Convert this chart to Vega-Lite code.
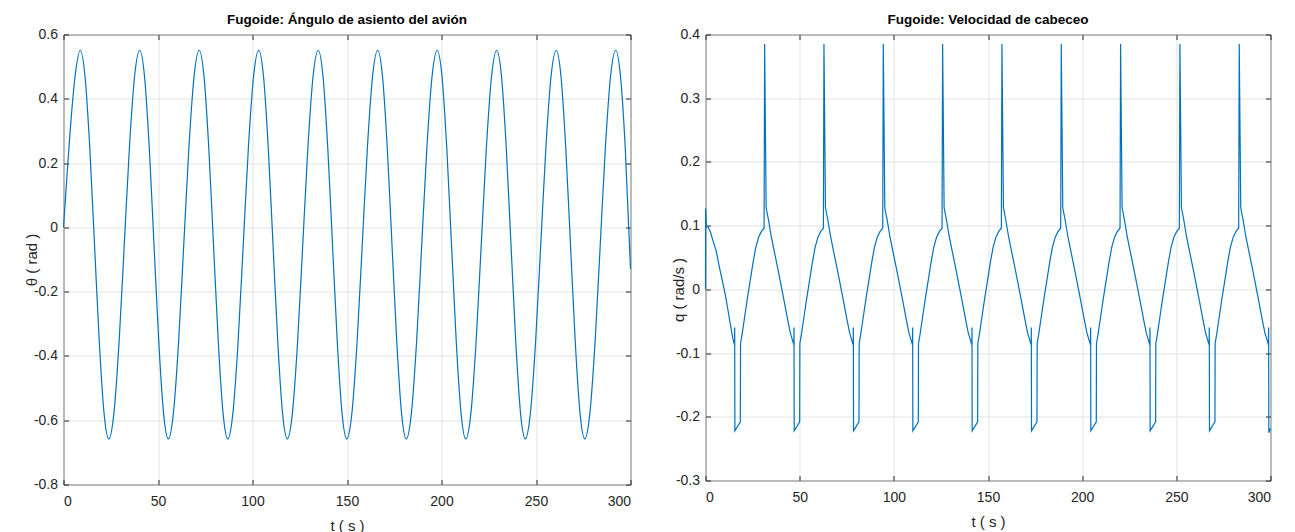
{
  "$schema": "https://vega.github.io/schema/vega-lite/v6.json",
  "background": "white",
  "padding": {"left": 23.5, "top": 12.5, "right": 0, "bottom": 0},
  "spacing": 37,
  "config": {
    "font": "Liberation Sans",
    "view": {"stroke": "#262626", "strokeWidth": 1},
    "title": {"fontSize": 13.5, "fontWeight": "bold", "color": "#000000", "offset": 1, "font": "Liberation Sans"},
    "axis": {
      "domain": false,
      "grid": true,
      "gridColor": "#e2e2e2",
      "gridWidth": 1,
      "tickColor": "#262626",
      "tickSize": -5,
      "tickWidth": 1,
      "labelFont": "Liberation Sans",
      "labelFontSize": 14,
      "labelColor": "#262626",
      "titleFont": "Liberation Sans",
      "titleFontSize": 15,
      "titleFontWeight": "normal",
      "titleColor": "#262626"
    },
    "axisX": {"labelPadding": 15, "titlePadding": 10},
    "axisY": {"labelPadding": 11}
  },
  "datasets": {
    "theta": [
      {"t": 0, "theta": 0.0}, {"t": 1.5, "theta": 0.13}, {"t": 3.4, "theta": 0.29}, {"t": 6.13, "theta": 0.47},
      {"t": 8.86, "theta": 0.551}, {"t": 11.38, "theta": 0.47}, {"t": 13.89, "theta": 0.249}, {"t": 16.41, "theta": -0.054}, {"t": 18.93, "theta": -0.356}, {"t": 21.44, "theta": -0.577}, {"t": 23.96, "theta": -0.658}, {"t": 26.69, "theta": -0.577}, {"t": 29.42, "theta": -0.356}, {"t": 32.15, "theta": -0.054}, {"t": 34.88, "theta": 0.249}, {"t": 37.61, "theta": 0.47},
      {"t": 40.34, "theta": 0.551}, {"t": 42.86, "theta": 0.47}, {"t": 45.37, "theta": 0.249}, {"t": 47.89, "theta": -0.054}, {"t": 50.41, "theta": -0.356}, {"t": 52.92, "theta": -0.577}, {"t": 55.44, "theta": -0.658}, {"t": 58.17, "theta": -0.577}, {"t": 60.9, "theta": -0.356}, {"t": 63.63, "theta": -0.054}, {"t": 66.36, "theta": 0.249}, {"t": 69.09, "theta": 0.47},
      {"t": 71.82, "theta": 0.551}, {"t": 74.34, "theta": 0.47}, {"t": 76.85, "theta": 0.249}, {"t": 79.37, "theta": -0.054}, {"t": 81.89, "theta": -0.356}, {"t": 84.4, "theta": -0.577}, {"t": 86.92, "theta": -0.658}, {"t": 89.65, "theta": -0.577}, {"t": 92.38, "theta": -0.356}, {"t": 95.11, "theta": -0.054}, {"t": 97.84, "theta": 0.249}, {"t": 100.57, "theta": 0.47},
      {"t": 103.3, "theta": 0.551}, {"t": 105.82, "theta": 0.47}, {"t": 108.33, "theta": 0.249}, {"t": 110.85, "theta": -0.054}, {"t": 113.37, "theta": -0.356}, {"t": 115.88, "theta": -0.577}, {"t": 118.4, "theta": -0.658}, {"t": 121.13, "theta": -0.577}, {"t": 123.86, "theta": -0.356}, {"t": 126.59, "theta": -0.054}, {"t": 129.32, "theta": 0.249}, {"t": 132.05, "theta": 0.47},
      {"t": 134.78, "theta": 0.551}, {"t": 137.3, "theta": 0.47}, {"t": 139.81, "theta": 0.249}, {"t": 142.33, "theta": -0.054}, {"t": 144.85, "theta": -0.356}, {"t": 147.36, "theta": -0.577}, {"t": 149.88, "theta": -0.658}, {"t": 152.61, "theta": -0.577}, {"t": 155.34, "theta": -0.356}, {"t": 158.07, "theta": -0.054}, {"t": 160.8, "theta": 0.249}, {"t": 163.53, "theta": 0.47},
      {"t": 166.26, "theta": 0.551}, {"t": 168.78, "theta": 0.47}, {"t": 171.29, "theta": 0.249}, {"t": 173.81, "theta": -0.054}, {"t": 176.33, "theta": -0.356}, {"t": 178.84, "theta": -0.577}, {"t": 181.36, "theta": -0.658}, {"t": 184.09, "theta": -0.577}, {"t": 186.82, "theta": -0.356}, {"t": 189.55, "theta": -0.054}, {"t": 192.28, "theta": 0.249}, {"t": 195.01, "theta": 0.47},
      {"t": 197.74, "theta": 0.551}, {"t": 200.26, "theta": 0.47}, {"t": 202.77, "theta": 0.249}, {"t": 205.29, "theta": -0.054}, {"t": 207.81, "theta": -0.356}, {"t": 210.32, "theta": -0.577}, {"t": 212.84, "theta": -0.658}, {"t": 215.57, "theta": -0.577}, {"t": 218.3, "theta": -0.356}, {"t": 221.03, "theta": -0.054}, {"t": 223.76, "theta": 0.249}, {"t": 226.49, "theta": 0.47},
      {"t": 229.22, "theta": 0.551}, {"t": 231.74, "theta": 0.47}, {"t": 234.25, "theta": 0.249}, {"t": 236.77, "theta": -0.054}, {"t": 239.29, "theta": -0.356}, {"t": 241.8, "theta": -0.577}, {"t": 244.32, "theta": -0.658}, {"t": 247.05, "theta": -0.577}, {"t": 249.78, "theta": -0.356}, {"t": 252.51, "theta": -0.054}, {"t": 255.24, "theta": 0.249}, {"t": 257.97, "theta": 0.47},
      {"t": 260.7, "theta": 0.551}, {"t": 263.22, "theta": 0.47}, {"t": 265.73, "theta": 0.249}, {"t": 268.25, "theta": -0.054}, {"t": 270.77, "theta": -0.356}, {"t": 273.28, "theta": -0.577}, {"t": 275.8, "theta": -0.658}, {"t": 278.53, "theta": -0.577}, {"t": 281.26, "theta": -0.356}, {"t": 283.99, "theta": -0.054}, {"t": 286.72, "theta": 0.249}, {"t": 289.45, "theta": 0.47},
      {"t": 292.18, "theta": 0.551}, {"t": 294.7, "theta": 0.47}, {"t": 297.21, "theta": 0.249}, {"t": 300, "theta": -0.13}
    ],
    "q": [
      {"t": 0, "q": 0.0}, {"t": 0.05, "q": 0.127}, {"t": 0.5, "q": 0.098}, {"t": 1.5, "q": 0.097}, {"t": 2.6, "q": 0.09}, {"t": 3.8, "q": 0.078}, {"t": 5.7, "q": 0.06}, {"t": 7.5, "q": 0.033}, {"t": 9.2, "q": 0.01}, {"t": 10.6, "q": -0.01}, {"t": 11.9, "q": -0.032}, {"t": 13.2, "q": -0.055}, {"t": 14.5, "q": -0.077},
      {"t": 15.4, "q": -0.087}, {"t": 15.5, "q": -0.06}, {"t": 15.6, "q": -0.222}, {"t": 18.5, "q": -0.208}, {"t": 18.6, "q": -0.085}, {"t": 19.4, "q": -0.071}, {"t": 20.7, "q": -0.045}, {"t": 22.2, "q": -0.015}, {"t": 23.8, "q": 0.015}, {"t": 25.3, "q": 0.043}, {"t": 26.7, "q": 0.066}, {"t": 28.2, "q": 0.082}, {"t": 29.7, "q": 0.091}, {"t": 31.1, "q": 0.096},

      {"t": 31.4, "q": 0.385}, {"t": 32.2, "q": 0.128}, {"t": 33.4, "q": 0.11}, {"t": 34.9, "q": 0.083}, {"t": 36.7, "q": 0.057}, {"t": 38.5, "q": 0.031}, {"t": 40.3, "q": 0.004}, {"t": 42.0, "q": -0.022}, {"t": 43.6, "q": -0.047}, {"t": 45.0, "q": -0.068}, {"t": 46.2, "q": -0.08}, {"t": 46.9, "q": -0.087}, {"t": 47.0, "q": -0.06}, {"t": 47.1, "q": -0.222}, {"t": 50.0, "q": -0.208}, {"t": 50.1, "q": -0.085}, {"t": 50.9, "q": -0.071}, {"t": 52.2, "q": -0.045}, {"t": 53.7, "q": -0.015}, {"t": 55.3, "q": 0.015}, {"t": 56.8, "q": 0.043}, {"t": 58.2, "q": 0.066}, {"t": 59.7, "q": 0.082}, {"t": 61.2, "q": 0.091}, {"t": 62.6, "q": 0.096},

      {"t": 62.9, "q": 0.385}, {"t": 63.7, "q": 0.128}, {"t": 64.9, "q": 0.11}, {"t": 66.4, "q": 0.083}, {"t": 68.2, "q": 0.057}, {"t": 70.0, "q": 0.031}, {"t": 71.8, "q": 0.004}, {"t": 73.5, "q": -0.022}, {"t": 75.1, "q": -0.047}, {"t": 76.5, "q": -0.068}, {"t": 77.7, "q": -0.08}, {"t": 78.4, "q": -0.087}, {"t": 78.5, "q": -0.06}, {"t": 78.6, "q": -0.222}, {"t": 81.5, "q": -0.208}, {"t": 81.6, "q": -0.085}, {"t": 82.4, "q": -0.071}, {"t": 83.7, "q": -0.045}, {"t": 85.2, "q": -0.015}, {"t": 86.8, "q": 0.015}, {"t": 88.3, "q": 0.043}, {"t": 89.7, "q": 0.066}, {"t": 91.2, "q": 0.082}, {"t": 92.7, "q": 0.091}, {"t": 94.1, "q": 0.096},

      {"t": 94.4, "q": 0.385}, {"t": 95.2, "q": 0.128}, {"t": 96.4, "q": 0.11}, {"t": 97.9, "q": 0.083}, {"t": 99.7, "q": 0.057}, {"t": 101.5, "q": 0.031}, {"t": 103.3, "q": 0.004}, {"t": 105.0, "q": -0.022}, {"t": 106.6, "q": -0.047}, {"t": 108.0, "q": -0.068}, {"t": 109.2, "q": -0.08}, {"t": 109.9, "q": -0.087}, {"t": 110.0, "q": -0.06}, {"t": 110.1, "q": -0.222}, {"t": 113.0, "q": -0.208}, {"t": 113.1, "q": -0.085}, {"t": 113.9, "q": -0.071}, {"t": 115.2, "q": -0.045}, {"t": 116.7, "q": -0.015}, {"t": 118.3, "q": 0.015}, {"t": 119.8, "q": 0.043}, {"t": 121.2, "q": 0.066}, {"t": 122.7, "q": 0.082}, {"t": 124.2, "q": 0.091}, {"t": 125.6, "q": 0.096},

      {"t": 125.9, "q": 0.385}, {"t": 126.7, "q": 0.128}, {"t": 127.9, "q": 0.11}, {"t": 129.4, "q": 0.083}, {"t": 131.2, "q": 0.057}, {"t": 133.0, "q": 0.031}, {"t": 134.8, "q": 0.004}, {"t": 136.5, "q": -0.022}, {"t": 138.1, "q": -0.047}, {"t": 139.5, "q": -0.068}, {"t": 140.7, "q": -0.08}, {"t": 141.4, "q": -0.087}, {"t": 141.5, "q": -0.06}, {"t": 141.6, "q": -0.222}, {"t": 144.5, "q": -0.208}, {"t": 144.6, "q": -0.085}, {"t": 145.4, "q": -0.071}, {"t": 146.7, "q": -0.045}, {"t": 148.2, "q": -0.015}, {"t": 149.8, "q": 0.015}, {"t": 151.3, "q": 0.043}, {"t": 152.7, "q": 0.066}, {"t": 154.2, "q": 0.082}, {"t": 155.7, "q": 0.091}, {"t": 157.1, "q": 0.096},

      {"t": 157.4, "q": 0.385}, {"t": 158.2, "q": 0.128}, {"t": 159.4, "q": 0.11}, {"t": 160.9, "q": 0.083}, {"t": 162.7, "q": 0.057}, {"t": 164.5, "q": 0.031}, {"t": 166.3, "q": 0.004}, {"t": 168.0, "q": -0.022}, {"t": 169.6, "q": -0.047}, {"t": 171.0, "q": -0.068}, {"t": 172.2, "q": -0.08}, {"t": 172.9, "q": -0.087}, {"t": 173.0, "q": -0.06}, {"t": 173.1, "q": -0.222}, {"t": 176.0, "q": -0.208}, {"t": 176.1, "q": -0.085}, {"t": 176.9, "q": -0.071}, {"t": 178.2, "q": -0.045}, {"t": 179.7, "q": -0.015}, {"t": 181.3, "q": 0.015}, {"t": 182.8, "q": 0.043}, {"t": 184.2, "q": 0.066}, {"t": 185.7, "q": 0.082}, {"t": 187.2, "q": 0.091}, {"t": 188.6, "q": 0.096},

      {"t": 188.9, "q": 0.385}, {"t": 189.7, "q": 0.128}, {"t": 190.9, "q": 0.11}, {"t": 192.4, "q": 0.083}, {"t": 194.2, "q": 0.057}, {"t": 196.0, "q": 0.031}, {"t": 197.8, "q": 0.004}, {"t": 199.5, "q": -0.022}, {"t": 201.1, "q": -0.047}, {"t": 202.5, "q": -0.068}, {"t": 203.7, "q": -0.08}, {"t": 204.4, "q": -0.087}, {"t": 204.5, "q": -0.06}, {"t": 204.6, "q": -0.222}, {"t": 207.5, "q": -0.208}, {"t": 207.6, "q": -0.085}, {"t": 208.4, "q": -0.071}, {"t": 209.7, "q": -0.045}, {"t": 211.2, "q": -0.015}, {"t": 212.8, "q": 0.015}, {"t": 214.3, "q": 0.043}, {"t": 215.7, "q": 0.066}, {"t": 217.2, "q": 0.082}, {"t": 218.7, "q": 0.091}, {"t": 220.1, "q": 0.096},

      {"t": 220.4, "q": 0.385}, {"t": 221.2, "q": 0.128}, {"t": 222.4, "q": 0.11}, {"t": 223.9, "q": 0.083}, {"t": 225.7, "q": 0.057}, {"t": 227.5, "q": 0.031}, {"t": 229.3, "q": 0.004}, {"t": 231.0, "q": -0.022}, {"t": 232.6, "q": -0.047}, {"t": 234.0, "q": -0.068}, {"t": 235.2, "q": -0.08}, {"t": 235.9, "q": -0.087}, {"t": 236.0, "q": -0.06}, {"t": 236.1, "q": -0.222}, {"t": 239.0, "q": -0.208}, {"t": 239.1, "q": -0.085}, {"t": 239.9, "q": -0.071}, {"t": 241.2, "q": -0.045}, {"t": 242.7, "q": -0.015}, {"t": 244.3, "q": 0.015}, {"t": 245.8, "q": 0.043}, {"t": 247.2, "q": 0.066}, {"t": 248.7, "q": 0.082}, {"t": 250.2, "q": 0.091}, {"t": 251.6, "q": 0.096},

      {"t": 251.9, "q": 0.385}, {"t": 252.7, "q": 0.128}, {"t": 253.9, "q": 0.11}, {"t": 255.4, "q": 0.083}, {"t": 257.2, "q": 0.057}, {"t": 259.0, "q": 0.031}, {"t": 260.8, "q": 0.004}, {"t": 262.5, "q": -0.022}, {"t": 264.1, "q": -0.047}, {"t": 265.5, "q": -0.068}, {"t": 266.7, "q": -0.08}, {"t": 267.4, "q": -0.087}, {"t": 267.5, "q": -0.06}, {"t": 267.6, "q": -0.222}, {"t": 270.5, "q": -0.208}, {"t": 270.6, "q": -0.085}, {"t": 271.4, "q": -0.071}, {"t": 272.7, "q": -0.045}, {"t": 274.2, "q": -0.015}, {"t": 275.8, "q": 0.015}, {"t": 277.3, "q": 0.043}, {"t": 278.7, "q": 0.066}, {"t": 280.2, "q": 0.082}, {"t": 281.7, "q": 0.091}, {"t": 283.1, "q": 0.096},

      {"t": 283.4, "q": 0.385}, {"t": 284.2, "q": 0.128}, {"t": 285.4, "q": 0.11}, {"t": 286.9, "q": 0.083}, {"t": 288.7, "q": 0.057}, {"t": 290.5, "q": 0.031}, {"t": 292.3, "q": 0.004}, {"t": 294.0, "q": -0.022}, {"t": 295.6, "q": -0.047}, {"t": 297.0, "q": -0.068}, {"t": 298.2, "q": -0.08}, {"t": 298.9, "q": -0.087}, {"t": 299.0, "q": -0.06}, {"t": 299.1, "q": -0.225}, {"t": 300, "q": -0.218}
    ]
  },
  "hconcat": [
    {
      "width": 567,
      "height": 450,
      "data": {"name": "theta"},
      "title": {"text": "Fugoide: Ángulo de asiento del avión"},
      "layer": [
        {
          "mark": {"type": "line", "interpolate": "monotone", "color": "#0072BD", "strokeWidth": 1.2},
          "encoding": {
            "x": {"field": "t", "type": "quantitative", "scale": {"domain": [0, 300], "nice": false, "zero": false},
                  "axis": {"title": "t ( s )", "values": [0, 50, 100, 150, 200, 250, 300], "orient": "bottom"}},
            "y": {"field": "theta", "type": "quantitative", "scale": {"domain": [-0.8, 0.6], "nice": false, "zero": false},
                  "axis": {"title": "θ ( rad )", "values": [-0.8, -0.6, -0.4, -0.2, 0, 0.2, 0.4, 0.6], "orient": "left",
                           "titleX": -32, "titleBaseline": "middle",
                           "labelExpr": "replace(format(datum.value, '.1~f'), '\u2212', '-')"}}
          }
        },
        {
          "mark": {"type": "line", "opacity": 0},
          "encoding": {
            "x": {"field": "t", "type": "quantitative",
                  "axis": {"title": null, "orient": "top", "labels": false, "grid": false, "values": [0, 50, 100, 150, 200, 250, 300]}},
            "y": {"field": "theta", "type": "quantitative",
                  "axis": {"title": null, "orient": "right", "labels": false, "grid": false, "values": [-0.8, -0.6, -0.4, -0.2, 0, 0.2, 0.4, 0.6]}}
          }
        }
      ],
      "resolve": {"axis": {"x": "independent", "y": "independent"}}
    },
    {
      "width": 565,
      "height": 446,
      "data": {"name": "q"},
      "title": {"text": "Fugoide: Velocidad de cabeceo"},
      "layer": [
        {
          "mark": {"type": "line", "color": "#0072BD", "strokeWidth": 1.2},
          "encoding": {
            "x": {"field": "t", "type": "quantitative", "scale": {"domain": [0, 300], "nice": false, "zero": false},
                  "axis": {"title": "t ( s )", "values": [0, 50, 100, 150, 200, 250, 300], "orient": "bottom"}},
            "y": {"field": "q", "type": "quantitative", "scale": {"domain": [-0.3, 0.4], "nice": false, "zero": false},
                  "axis": {"title": "q ( rad/s )", "values": [-0.3, -0.2, -0.1, 0, 0.1, 0.2, 0.3, 0.4], "orient": "left",
                           "titleX": -27.5, "titleY": 255, "titleBaseline": "middle",
                           "labelExpr": "replace(format(datum.value, '.1~f'), '\u2212', '-')"}}
          }
        },
        {
          "mark": {"type": "line", "opacity": 0},
          "encoding": {
            "x": {"field": "t", "type": "quantitative",
                  "axis": {"title": null, "orient": "top", "labels": false, "grid": false, "values": [0, 50, 100, 150, 200, 250, 300]}},
            "y": {"field": "q", "type": "quantitative",
                  "axis": {"title": null, "orient": "right", "labels": false, "grid": false, "values": [-0.3, -0.2, -0.1, 0, 0.1, 0.2, 0.3, 0.4]}}
          }
        }
      ],
      "resolve": {"axis": {"x": "independent", "y": "independent"}}
    }
  ]
}
